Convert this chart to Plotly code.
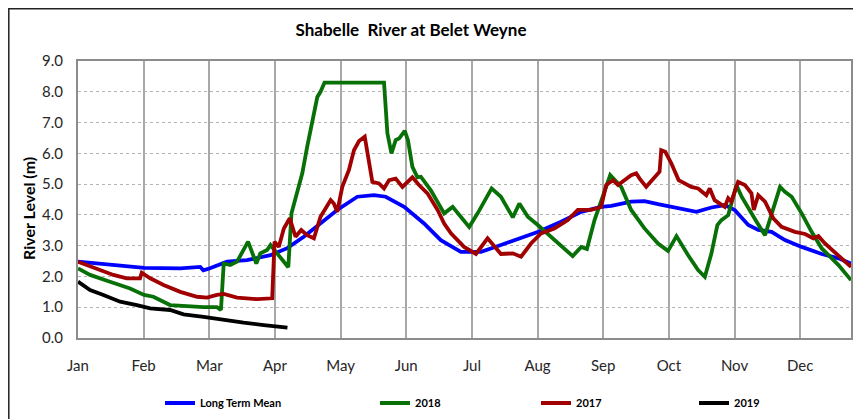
import plotly.graph_objects as go

# ---------------- data (day of year from Jan 1, river level in m) ----------------
months = ["Jan", "Feb", "Mar", "Apr", "May", "Jun", "Jul", "Aug", "Sep", "Oct", "Nov", "Dec"]
month_ticks = [0, 31, 62, 93, 124, 155, 186, 217, 248, 279, 310, 341]
y_ticks = [0, 1, 2, 3, 4, 5, 6, 7, 8, 9]

ltm_days = [0, 31.2, 48.3, 57.7, 59.2, 62, 70.4, 79.8, 90.9, 98.8, 106.6, 122.4, 131.9, 139.8,
            145.3, 154, 163.4, 171.3, 180.8, 190.3, 199.7, 209.2, 217.4, 228.1, 237.6, 247,
            251.8, 261.2, 267.5, 273.9, 283.3, 292, 299.1, 305.4, 310.1, 316.5, 321.2, 327.5,
            333.8, 341.7, 351.2, 359.1, 365]
ltm_vals = [2.48, 2.28, 2.26, 2.31, 2.2, 2.26, 2.48, 2.53, 2.69, 2.92, 3.29, 4.16, 4.59, 4.64,
            4.59, 4.26, 3.72, 3.18, 2.8, 2.8, 3.02, 3.24, 3.45, 3.78, 4.1, 4.26,
            4.29, 4.43, 4.45, 4.35, 4.21, 4.1, 4.24, 4.32, 4.16, 3.67, 3.51, 3.45,
            3.18, 2.96, 2.73, 2.59, 2.42]

y2018_days = [0, 5.7, 15.1, 24.6, 31.2, 35.6, 43.5, 49.8, 59.3, 65.6, 67.5, 68.8, 71.9, 75.1,
              80.3, 84.2, 86.1, 89.3, 90.9, 94, 99.3, 100.8, 103.3, 105.9, 108.2, 110.6, 113,
              114.5, 116.4, 144.5, 146.1, 148, 150, 151.6, 154.3, 155.8, 157.9, 160.3, 161.9,
              166.6, 171.3, 172.9, 176.9, 184.7, 188.7, 195.3, 199.7, 205.3, 208.4, 212.4,
              217.1, 225, 233.6, 237.6, 240.3, 243.9, 247, 249.4, 251.3, 256.5, 261.2, 267.5,
              273.9, 278.6, 282.6, 288.1, 292.8, 296, 299.1, 301.9, 303.8, 307, 310.9, 313.3,
              316.5, 320.4, 324.4, 328.3, 331.5, 333.8, 337, 341.7, 346.4, 351.2, 359.1, 365]
y2018_vals = [2.26, 2.05, 1.83, 1.61, 1.4, 1.34, 1.07, 1.04, 1.0, 1.0, 0.91, 2.42, 2.37, 2.48,
              3.13, 2.42, 2.75, 2.86, 3.02, 2.75, 2.3, 4.05, 4.75, 5.35, 6.21, 7.08, 7.83,
              8.0, 8.3, 8.3, 6.65, 6.0, 6.43, 6.48, 6.73, 6.43, 5.56, 5.22, 5.24,
              4.8, 4.26, 4.05, 4.26, 3.61, 4.05, 4.86, 4.59, 3.92, 4.37, 3.94,
              3.67, 3.18, 2.66, 2.96, 2.89, 3.83, 4.45, 4.97, 5.29, 4.91, 4.16, 3.56,
              3.07, 2.83, 3.31, 2.69, 2.21, 1.99, 2.75, 3.67, 3.83, 3.99, 4.97, 4.6,
              4.21, 3.78, 3.34, 4.26, 4.91, 4.75, 4.59, 4.05, 3.45, 2.91, 2.37, 1.88]

y2017_days = [0, 8.8, 16.7, 23, 29.3, 30.1, 34.1, 40.4, 48.3, 56.2, 60.9, 65.6, 68.8, 75.1,
              84.6, 91.7, 92.8, 94.8, 97.2, 100, 102.7, 105.4, 108.2, 111.4, 114.5, 116.9,
              119.3, 120.8, 122.4, 124.8, 127.9, 130.3, 132.7, 135.4, 137.4, 139, 142.1,
              144.5, 146.9, 150, 153.2, 157.9, 161, 165, 169.8, 172.9, 176.1, 182.3, 187.9,
              193.4, 199.7, 205.3, 209.2, 213.9, 218.6, 224.9, 231.3, 236, 242.3, 247,
              249.4, 252.6, 255, 261.2, 263.6, 265.2, 268.3, 271.5, 274.6, 275.4, 277.3,
              280.2, 283.6, 289.6, 292.8, 296.7, 298.3, 300.6, 305.4, 307, 308.5, 311.7,
              314.9, 318, 319.1, 321.2, 324.4, 328.3, 332.2, 338.5, 343.3, 347.2, 349.6,
              352.7, 359.1, 365]
y2017_vals = [2.48, 2.26, 2.05, 1.94, 1.94, 2.12, 1.94, 1.72, 1.5, 1.34, 1.31, 1.4, 1.43, 1.31,
              1.26, 1.29, 3.13, 2.96, 3.56, 3.89, 3.29, 3.51, 3.34, 3.24, 3.94, 4.21,
              4.48, 4.37, 4.1, 4.91, 5.45, 6.1, 6.4, 6.54, 5.78, 5.07, 5.02,
              4.86, 5.13, 5.18, 4.91, 5.22, 4.97, 4.7, 4.16, 3.72, 3.4, 2.96, 2.73,
              3.24, 2.73, 2.75, 2.64, 3.07, 3.4, 3.56, 3.83, 4.16, 4.16, 4.26,
              4.97, 5.13, 4.97, 5.29, 5.35, 5.18, 4.91, 5.18, 5.4, 6.1, 6.05,
              5.67, 5.13, 4.91, 4.86, 4.64, 4.86, 4.48, 4.26, 4.54, 4.43, 5.07,
              4.97, 4.7, 4.16, 4.64, 4.43, 3.89, 3.61, 3.45, 3.38, 3.24, 3.31,
              3.07, 2.69, 2.31]

y2019_days = [0, 5.7, 12, 19.9, 27.8, 34.1, 43.5, 49.8, 59.3, 68.8, 78.2, 87.7, 97.2, 98.9]
y2019_vals = [1.83, 1.56, 1.4, 1.18, 1.07, 0.96, 0.91, 0.77, 0.69, 0.58, 0.5, 0.42, 0.36, 0.34]

series = [
    ("Long Term Mean", ltm_days, ltm_vals, "#0000FF", "legend"),
    ("2018", y2018_days, y2018_vals, "#077007", "legend2"),
    ("2017", y2017_days, y2017_vals, "#A00000", "legend3"),
    ("2019", y2019_days, y2019_vals, "#000000", "legend4"),
]

FONT = "Lato, Roboto, sans-serif"
W, H = 861, 419
L, R, T, B = 70, 18, 53, 89  # page body has an 8px offset

fig = go.Figure()
for name, xs, ys, col, lg in series:
    fig.add_trace(go.Scatter(x=xs, y=ys, mode="lines", name=name,
                             line=dict(color=col, width=3.8), legend=lg))

legend_style = dict(orientation="h", xref="container", yref="container",
                    yanchor="middle", y=1 - 395 / H, xanchor="left",
                    bgcolor="rgba(0,0,0,0)",
                    font=dict(family=FONT, size=11, color="#000000", weight="bold"),
                    itemwidth=30)
lx = [152 / W, 367 / W, 528 / W, 686 / W]
fig.update_layout(
    width=W, height=H,
    margin=dict(l=L, r=R, t=T, b=B, autoexpand=False),
    paper_bgcolor="white", plot_bgcolor="white",
    title=dict(text="<b>Shabelle  River at Belet Weyne</b>", x=403 / W, xanchor="center",
               y=1 - 22 / H, yanchor="middle",
               font=dict(family=FONT, size=17, color="#000000")),
    legend=dict(legend_style, x=lx[0]),
    legend2=dict(legend_style, x=lx[1]),
    legend3=dict(legend_style, x=lx[2]),
    legend4=dict(legend_style, x=lx[3]),
    xaxis=dict(range=[0, 365], tickmode="array", tickvals=month_ticks, ticktext=months,
               showgrid=True, gridcolor="#A8A8A8", gridwidth=1.5,
               showline=True, linecolor="#8C8C8C", linewidth=2, mirror=True,
               ticks="", ticklabelstandoff=13, zeroline=False, automargin=False,
               tickfont=dict(family=FONT, size=15, color="#262626")),
    yaxis=dict(range=[0, 9], tickmode="array", tickvals=y_ticks,
               ticktext=[f"{v:.1f}" for v in y_ticks],
               showgrid=True, gridcolor="#B4B4B4", gridwidth=1, griddash="dot",
               showline=True, linecolor="#8C8C8C", linewidth=2, mirror=True,
               ticks="", ticklabelstandoff=10, zeroline=False, automargin=False,
               tickfont=dict(family=FONT, size=15, color="#262626")),
    showlegend=True,
)

pw, ph = W - L - R, H - T - B
fig.add_annotation(text="<b>River Level (m)</b>", textangle=-90, xref="paper", yref="paper",
                   x=(20 - L) / pw, y=(H - B - 201) / ph, xanchor="center", yanchor="middle",
                   showarrow=False, font=dict(family=FONT, size=16, color="#000000"))

fig.add_shape(type="rect", xref="paper", yref="paper",
              x0=(0.8 - L) / pw, x1=(847 - L) / pw, y0=(H - B - 412) / ph, y1=(H - B - 0.8) / ph,
              line=dict(color="#222222", width=1.5), fillcolor="rgba(0,0,0,0)", layer="below")

fig.write_html("out.html")
